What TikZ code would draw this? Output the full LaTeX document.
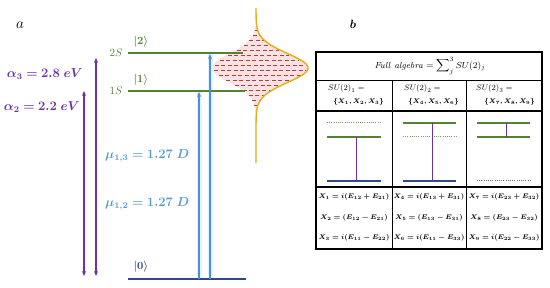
\documentclass[tikz,border=0pt]{standalone}
\usepackage{amsmath,amssymb,bm}
\usetikzlibrary{arrows.meta}
\definecolor{lvgreen}{RGB}{84,130,53}
\definecolor{lvpurple}{RGB}{112,48,160}
\definecolor{lvblue}{RGB}{80,140,225}
\definecolor{lvlabel}{RGB}{91,155,213}
\definecolor{lvdark}{RGB}{50,72,135}
\definecolor{lvgold}{RGB}{225,175,20}
\definecolor{lvpink}{RGB}{252,225,228}
\definecolor{lvdash}{RGB}{165,70,55}
\definecolor{lvhalo}{RGB}{225,245,252}
\tikzset{
  lvl/.style={line width=1.6pt},
  purarrow/.style={lvpurple, line width=1.1pt, {Stealth[length=5pt,width=4pt]}-{Stealth[length=5pt,width=4pt]}},
  bluarrow/.style={lvblue, line width=1.1pt, -{Stealth[length=5pt,width=4pt]}},
  halo/.style={lvhalo, line width=5pt},
  grid/.style={black, line width=0.9pt},
  mini/.style={line width=1.3pt},
  minidot/.style={line width=1pt, dash pattern=on 1pt off 1.2pt},
  eq/.style={font=\fontsize{7}{8}\selectfont, scale=0.97, inner sep=0pt},
  hd/.style={font=\fontsize{8}{9}\selectfont, inner sep=0pt},
  grp/.style={font=\fontsize{7}{8}\selectfont, scale=0.97, inner sep=0pt},
  big/.style={font=\fontsize{12}{14}\selectfont, scale=1.08, inner sep=0pt},
  lvtxt/.style={font=\fontsize{11}{13}\selectfont},
}
\begin{document}
\begin{tikzpicture}[x=1pt,y=-1pt]
\useasboundingbox (0,0) rectangle (550,288);
% panel labels
\node[font=\fontsize{14}{17}\selectfont, scale=1.05] (la) at (20,25) {$a$};
\node[font=\fontsize{12}{14}\selectfont] (lb) at (353,24) {$\bm{b}$};
% gaussian
\fill[lvpink] plot[domain=25:112,samples=60,smooth] ({256+52*exp(-((\x-68)/14.5)^2/2)},\x)
  -- plot[domain=112:25,samples=60,smooth] ({256-44*exp(-((\x-68)/14.5)^2/2)},\x) -- cycle;
\foreach \yy in {30,35,...,108}{
  \pgfmathsetmacro{\xr}{256+50*exp(-((\yy-68)/14.5)^2/2)}
  \pgfmathsetmacro{\xl}{256-42*exp(-((\yy-68)/14.5)^2/2)}
  \draw[lvdash, line width=0.7pt, dash pattern=on 4pt off 2.5pt] (\xl,\yy) -- (\xr,\yy);
}
\draw[lvgold, line width=1.4pt] plot[domain=8:163,samples=120,smooth] ({256+52*exp(-((\x-68)/14.5)^2/2)},\x);
% levels
\coordinate (l2a) at (128,53); \coordinate (l2b) at (243,53);
\coordinate (l1a) at (128,91); \coordinate (l1b) at (245,91);
\coordinate (l0a) at (128,279); \coordinate (l0b) at (246,279);
% blue arrows (halo first)
\coordinate (ba1) at (199,279); \coordinate (bb1) at (199,92);
\coordinate (ba2) at (210,279); \coordinate (bb2) at (210,54);
\draw[halo] (ba1) -- (bb1);
\draw[halo] (ba2) -- (bb2);
\draw[lvl, lvgreen] (l2a) -- (l2b);
\draw[lvl, lvgreen] (l1a) -- (l1b);
\draw[lvl, lvdark] (l0a) -- (l0b);
\draw[bluarrow] (ba1) -- (bb1);
\draw[bluarrow] (ba2) -- (bb2);
\node[lvgreen, lvtxt, anchor=east] (s2) at (126,53) {$2S$};
\node[lvgreen, lvtxt, anchor=east] (s1) at (126,91) {$1S$};
\node[lvgreen, lvtxt, anchor=west] (k2) at (130,42) {$\bm{|2\rangle}$};
\node[lvgreen, lvtxt, anchor=west] (k1) at (130,80) {$\bm{|1\rangle}$};
\node[lvdark, lvtxt, anchor=west] (k0) at (130,267) {$\bm{|0\rangle}$};
% purple arrows
\coordinate (pa1) at (84,91); \coordinate (pb1) at (84,276);
\coordinate (pa2) at (96,58); \coordinate (pb2) at (96,276);
\draw[purarrow] (pb1) -- (pa1);
\draw[purarrow] (pb2) -- (pa2);
\node[lvpurple, big, anchor=east] (al3) at (83,74) {$\bm{\alpha_3 = 2.8\;eV}$};
\node[lvpurple, big, anchor=east] (al2) at (80,107) {$\bm{\alpha_2 = 2.2\;eV}$};
\node[lvlabel, big, anchor=west] (mu3) at (105,156) {$\bm{\mu_{1,3} = 1.27\;D}$};
\node[lvlabel, big, anchor=west] (mu2) at (105,204) {$\bm{\mu_{1,2} = 1.27\;D}$};
% table
\coordinate (t0) at (316,52); \coordinate (t1) at (542,249);
\draw[grid, line width=1.2pt] (t0) rectangle (t1);
\draw[grid] (316,80) -- (542,80);
\draw[grid] (392,80) -- (392,249);
\draw[grid] (466,80) -- (466,249);
\draw[grid, line width=1.3pt] (316,111) -- (542,111);
\draw[grid, line width=1.3pt] (316,187) -- (542,187);
\node[hd, scale=1.1] (full) at (430,66) {$\mathit{Full\ algebra} = \displaystyle\sum\nolimits_{j}^{3} SU(2)_j$};
\node[hd, anchor=west] (su1) at (328,89) {$SU(2)_1 =$};
\node[hd, anchor=west] (su2) at (404,89) {$SU(2)_2 =$};
\node[hd, anchor=west] (su3) at (476,89) {$SU(2)_3 =$};
\node[grp, anchor=east] (g1) at (384,102) {$\bm{\{X_1, X_2, X_3\}}$};
\node[grp, anchor=east] (g2) at (459,102) {$\bm{\{X_4, X_5, X_6\}}$};
\node[grp, anchor=east] (g3) at (535,102) {$\bm{\{X_7, X_8, X_9\}}$};
% mini diagrams col1
\draw[minidot, lvgreen!80] (327,123) -- (381,123);
\draw[mini, lvgreen] (327,137) -- (381,137);
\draw[mini, lvdark] (327,181) -- (381,181);
\draw[lvpurple, line width=0.9pt] (356,137) -- (356,181);
% col2
\draw[mini, lvgreen] (403,123) -- (456,123);
\draw[minidot, lvgreen!80] (403,137) -- (456,137);
\draw[mini, lvdark] (403,181) -- (456,181);
\draw[lvpurple, line width=0.9pt] (432,123) -- (432,181);
% col3
\draw[mini, lvgreen] (477,123) -- (530,123);
\draw[mini, lvgreen] (477,137) -- (530,137);
\draw[minidot, lvdark!80] (477,181) -- (530,181);
\draw[lvpurple, line width=0.9pt] (506,123) -- (506,137);
% equations
\node[eq] (e1) at (354,197) {$\bm{X_1 = i(E_{12} + E_{21})}$};
\node[eq] (e2) at (354,218) {$\bm{X_2 = (E_{12} - E_{21})}$};
\node[eq] (e3) at (354,238) {$\bm{X_3 = i(E_{11} - E_{22})}$};
\node[eq] (e4) at (429,197) {$\bm{X_4 = i(E_{13} + E_{31})}$};
\node[eq] (e5) at (429,218) {$\bm{X_5 = (E_{13} - E_{31})}$};
\node[eq] (e6) at (429,238) {$\bm{X_6 = i(E_{11} - E_{33})}$};
\node[eq] (e7) at (504,197) {$\bm{X_7 = i(E_{23} + E_{32})}$};
\node[eq] (e8) at (504,218) {$\bm{X_8 = (E_{23} - E_{32})}$};
\node[eq] (e9) at (504,238) {$\bm{X_9 = i(E_{22} - E_{33})}$};
\end{tikzpicture}
\end{document}
